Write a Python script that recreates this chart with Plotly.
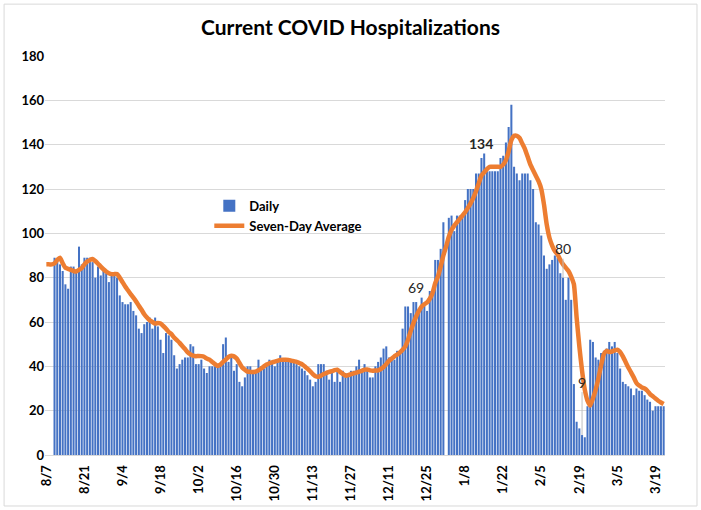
import pandas as pd
import plotly.graph_objects as go

start_date = "2020-08-07"

daily = [
    None, None, None, 89, 88, 86, 83, 77, 75, 85,
    85, 83, 94, 86, 89, 89, 89, 87, 80, 85,
    81, 83, 82, 78, 81, 81, 80, 72, 69, 68,
    68, 69, 65, 63, 57, 55, 59, 60, 62, 57,
    62, 58, 52, 46, 55, 54, 52, 45, 39, 41,
    43, 44, 44, 50, 49, 41, 41, 43, 39, 37,
    40, 40, 40, 40, 41, 50, 53, 42, 44, 38,
    41, 33, 31, 35, 40, 40, 38, 37, 43, 40,
    39, 40, 43, 42, 40, 43, 45, 43, 43, 42,
    42, 42, 41, 40, 39, 38, 36, 34, 31, 33,
    41, 41, 41, 38, 34, 37, 33, 38, 33, 38,
    37, 37, 38, 38, 40, 43, 38, 41, 38, 35,
    35, 40, 42, 44, 48, 49, 44, 44, 43, 47,
    46, 57, 67, 67, 64, 69, 69, 64, 71, 68,
    65, 74, 74, 88, 88, 93, 105, None, 107, 108,
    101, 108, 108, 108, 115, 120, 120, 120, 127, 127,
    134, 136, 128, 128, 128, 128, 128, 134, 135, 141,
    148, 158, 130, 127, 124, 127, 127, 127, 124, 120,
    105, 104, 99, 90, 84, 86, 88, 90, 89, 82,
    80, 70, 80, 70, 32, 15, 12, 9, 8, 22,
    52, 51, 44, 43, 46, 47, 48, 51, 49, 51,
    46, 39, 33, 32, 31, 30, 27, 30, 29, 29,
    27, 25, 24, 20, 22, 22, 22, 22,
]

seven_day_avg = [
    86, 86, 86, 86.5, 88, 89, 86.5, 84.5, 84, 83.5,
    83, 82.8, 83.5, 84.3, 86, 87.3, 88, 88.4, 87.5, 86.3,
    85, 83.8, 82.8, 82, 81.6, 81.6, 81.6, 80, 78, 76,
    74.3, 72.6, 71, 69.3, 67.3, 65.5, 63.5, 62, 60.8, 60,
    59.3, 59.5, 59.3, 58.2, 57, 55.5, 54.5, 53, 51.8, 50.6,
    49.2, 47.8, 46.3, 45.4, 44.8, 44.6, 44.7, 44.6, 44.3, 43.5,
    43, 42, 41, 40.2, 40.8, 42, 43, 44.3, 44.8, 44.5,
    43.5, 41.5, 39.5, 38.5, 37.6, 37.5, 37.5, 37.6, 38.2, 39,
    40, 40.8, 41.4, 41.8, 42.1, 42.5, 42.9, 43, 43, 42.9,
    42.6, 42.3, 42, 41.5, 41, 40, 39, 37.8, 36.5, 35.5,
    35.3, 35.8, 36.5, 37, 37.5, 37.8, 38.3, 38.5, 37.5, 36.6,
    35.8, 36, 36.5, 36.8, 37.2, 37.6, 38, 38.5, 38.6, 38.2,
    38, 38.1, 38.2, 38.8, 39.7, 41, 42.5, 43.5, 44.5, 45.3,
    46.3, 47.5, 49, 52, 56, 59.5, 62.5, 65, 67, 68,
    68.8, 70.5, 73, 77.5, 80.5, 85, 90, 94, 98.5, 101.5,
    103.5, 105, 106.5, 108, 109.5, 111.5, 113.5, 116, 119, 122.5,
    126, 127.5, 129, 130, 130, 130, 130, 130, 131, 133,
    137, 142, 144, 144, 143, 140.5, 138, 134.5, 131, 128.5,
    126, 123.5, 120, 113, 104, 98, 94.5, 92, 90.5, 88,
    86, 84.5, 83, 80.5, 77, 62, 49, 38, 29.5, 24.5,
    22.3, 25.5, 29.5, 34.5, 40.5, 45.5, 47, 46.5, 46.7, 47.2,
    47.5, 46.5, 44.5, 42, 39.5, 37.3, 35, 32.5, 31.3, 30.5,
    30, 29, 27.5, 26.5, 25.5, 24.5, 23.7, 23,
]

tick_dates = [
    "2020-08-07", "2020-08-21", "2020-09-04", "2020-09-18", "2020-10-02",
    "2020-10-16", "2020-10-30", "2020-11-13", "2020-11-27", "2020-12-11",
    "2020-12-25", "2021-01-08", "2021-01-22", "2021-02-05", "2021-02-19",
    "2021-03-05", "2021-03-19",
]
tick_labels = [
    "8/7", "8/21", "9/4", "9/18", "10/2", "10/16", "10/30", "11/13", "11/27",
    "12/11", "12/25", "1/8", "1/22", "2/5", "2/19", "3/5", "3/19",
]

# highlighted data labels
label_dates = ["2020-12-21", "2021-01-14", "2021-02-13", "2021-02-20"]
label_values = [69, 134, 80, 9]
label_texts = ["69", "134", "80", "9"]

dates = pd.date_range(start_date, periods=len(daily), freq="D")

BLUE = "#4472C4"
ORANGE = "#ED7D31"
GRID = "#D9D9D9"
FONT = "Lato"

fig = go.Figure()
fig.add_trace(go.Bar(
    x=dates, y=daily, name="Daily", marker=dict(color=BLUE, line=dict(width=0)),
))
fig.add_trace(go.Scatter(
    x=dates, y=seven_day_avg, name="Seven-Day Average", mode="lines",
    line=dict(color=ORANGE, width=4.5, shape="spline", smoothing=0.5),
))

fig.add_annotation(x=label_dates[0], y=label_values[0], text=label_texts[0],
                   showarrow=False, yanchor="bottom", yshift=4,
                   font=dict(family=FONT, size=14, color="#262626"))
fig.add_annotation(x=label_dates[1], y=label_values[1], text=label_texts[1],
                   showarrow=False, yanchor="bottom", yshift=4,
                   font=dict(family=FONT, size=14, color="#262626", weight="bold"))
fig.add_annotation(x=label_dates[2], y=label_values[2], text=label_texts[2],
                   showarrow=True, arrowhead=0, arrowwidth=1, arrowcolor="#BFBFBF",
                   ax=0, ay=-29, standoff=0,
                   font=dict(family=FONT, size=14, color="#262626"))
fig.add_annotation(x=label_dates[3], y=label_values[3], text=label_texts[3],
                   showarrow=True, arrowhead=0, arrowwidth=1, arrowcolor="#BFBFBF",
                   ax=0, ay=-53, standoff=0,
                   font=dict(family=FONT, size=14, color="#262626"))

# chart border
fig.add_shape(type="rect", xref="paper", yref="paper",
              x0=-0.066, x1=1.0516, y0=-0.1278, y1=1.13,
              line=dict(color=GRID, width=1), layer="below")

fig.update_layout(
    width=701, height=510,
    margin=dict(l=45, r=36, t=56, b=55, autoexpand=False),
    paper_bgcolor="white", plot_bgcolor="white",
    bargap=0.25,
    title=dict(text="<b>Current COVID Hospitalizations</b>", x=0.5, xanchor="center",
               y=1 - 28 / 510, yanchor="middle",
               font=dict(family=FONT, size=21, color="black")),
    legend=dict(x=0.265, y=0.662, xanchor="left", yanchor="top",
                bgcolor="rgba(0,0,0,0)",
                font=dict(family=FONT, size=13, color="black", weight="bold"),
                tracegroupgap=4),
    showlegend=True,
)
fig.update_xaxes(
    type="date", automargin=False,
    range=[pd.Timestamp(start_date) - pd.Timedelta(hours=12),
           dates[-1] + pd.Timedelta(hours=12)],
    tickvals=tick_dates, ticktext=tick_labels, tickangle=-90,
    tickfont=dict(family=FONT, size=13, color="black", weight="bold"),
    showgrid=False, showline=True, linecolor=GRID, linewidth=1,
    ticks="", ticklabelstandoff=4,
)
fig.update_yaxes(
    automargin=False,
    range=[0, 180], dtick=20, tick0=0,
    tickfont=dict(family=FONT, size=13, color="black", weight="bold"),
    showgrid=True, gridcolor=GRID, gridwidth=1, zeroline=False,
    showline=False, ticks="",
)

fig.write_html(
    "out.html",
    config={"displayModeBar": False},
    post_script="document.body.style.margin='0';document.body.style.padding='0';"
                "document.body.style.overflow='hidden';",
)
